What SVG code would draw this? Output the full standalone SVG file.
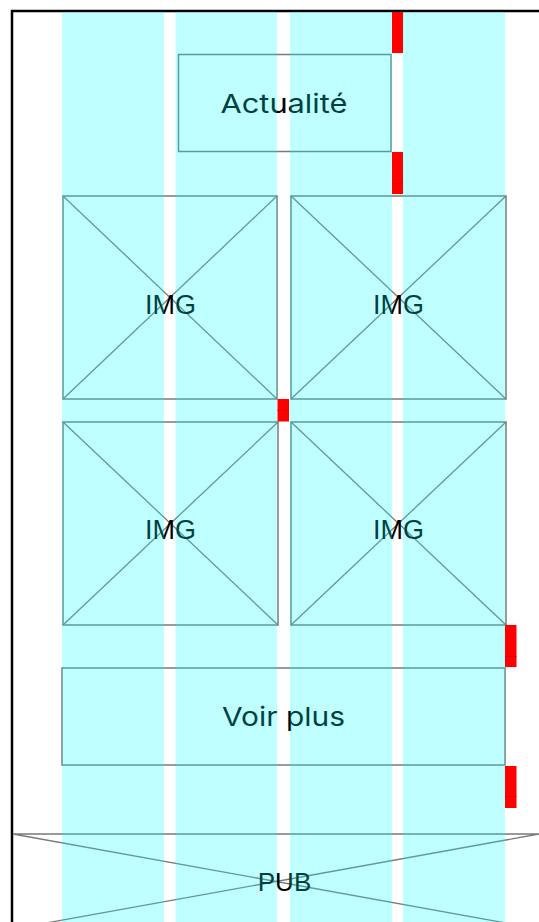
<svg xmlns="http://www.w3.org/2000/svg" width="539" height="922" viewBox="0 0 539 922">
<style>
.box{fill:none;stroke:#7a7a7a;stroke-width:1.5}
.x{stroke:#7a7a7a;stroke-width:1.3;fill:none}
.lbl{font-family:Inter,"Noto Sans",sans-serif;font-size:26px;fill:#000;text-anchor:middle}
.ph{font-family:"Liberation Sans",Arial,sans-serif;font-size:27px;fill:#000;text-anchor:middle}
.col{fill:#00ffff;fill-opacity:0.25}
.red{fill:#ff0000}
.seam{stroke:#e60000;stroke-width:1}
</style>
<rect x="0" y="0" width="539" height="922" fill="#fff"/>
<path id="frame" d="M12,922 V11 H539" fill="none" stroke="#000" stroke-width="2.5"/>

<g id="actualite">
<rect class="box" x="178.5" y="54.5" width="212.5" height="97"/>
<text class="lbl" x="284" y="112.5" textLength="127" lengthAdjust="spacingAndGlyphs">Actualité</text>
</g>

<g id="img1">
<rect class="box" x="63" y="196" width="214" height="203"/>
<path class="x" d="M63,196 L277,399 M277,196 L63,399"/>
<text class="ph" x="170.5" y="314">IMG</text>
</g>
<g id="img2">
<rect class="box" x="291" y="196" width="215" height="203"/>
<path class="x" d="M291,196 L506,399 M506,196 L291,399"/>
<text class="ph" x="398.5" y="314">IMG</text>
</g>
<g id="img3">
<rect class="box" x="63" y="422" width="215" height="203"/>
<path class="x" d="M63,422 L278,625 M278,422 L63,625"/>
<text class="ph" x="170.5" y="539">IMG</text>
</g>
<g id="img4">
<rect class="box" x="291" y="422" width="215" height="203"/>
<path class="x" d="M291,422 L506,625 M506,422 L291,625"/>
<text class="ph" x="398.5" y="539">IMG</text>
</g>

<g id="voirplus">
<rect class="box" x="62" y="668" width="443" height="97"/>
<text class="lbl" x="283.5" y="726" textLength="123" lengthAdjust="spacingAndGlyphs">Voir plus</text>
</g>

<g id="pub">
<path class="x" d="M13,834 H539 M13,834 L539,929 M539,834 L13,929"/>
<text class="ph" x="284.5" y="890.5" style="font-size:26px">PUB</text>
</g>

<g id="grid">
<rect class="col" x="62" y="12" width="102" height="910"/>
<rect class="col" x="175.5" y="12" width="101.5" height="910"/>
<rect class="col" x="290" y="12" width="102" height="910"/>
<rect class="col" x="403" y="12" width="102" height="910"/>
</g>

<g id="spacers">
<rect class="red" x="392" y="12" width="11" height="41"/>
<rect class="red" x="392" y="152" width="11" height="42"/>
<line class="seam" x1="392" y1="183.5" x2="403" y2="183.5"/>
<rect class="red" x="277.5" y="399" width="11.5" height="22.5"/>
<line class="seam" x1="277.5" y1="410.5" x2="289" y2="410.5"/>
<rect class="red" x="505" y="625" width="11.5" height="42"/>
<line class="seam" x1="505" y1="656.5" x2="516.5" y2="656.5"/>
<rect class="red" x="505" y="766" width="11.5" height="42"/>
<line class="seam" x1="505" y1="796.5" x2="516.5" y2="796.5"/>
</g>
</svg>
